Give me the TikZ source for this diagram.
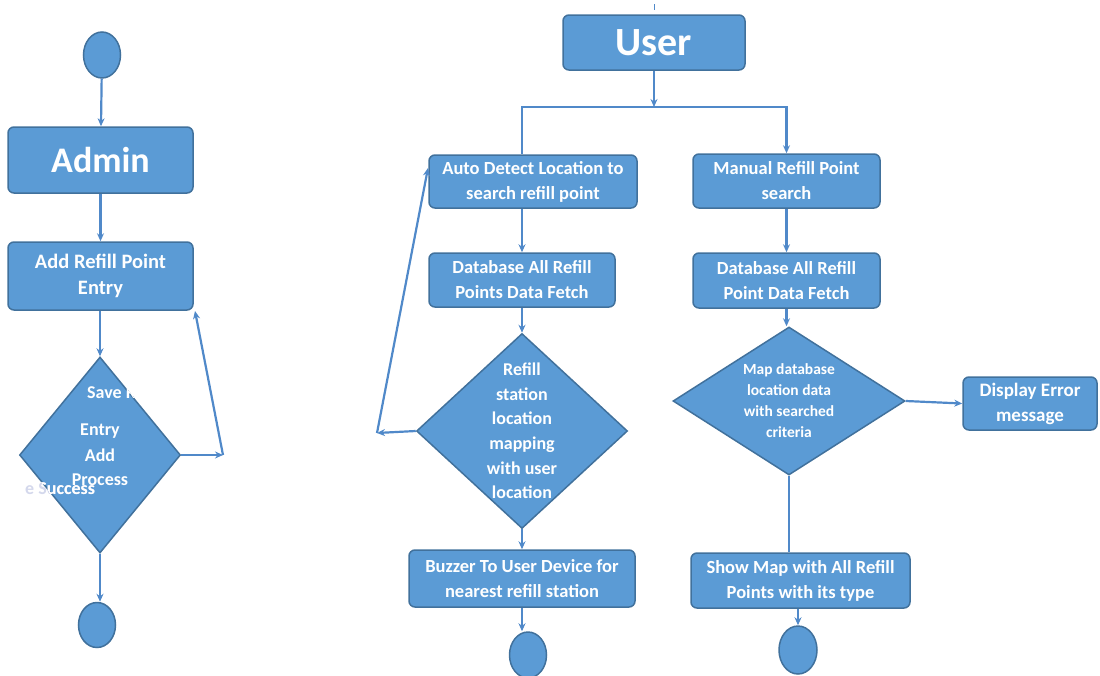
\documentclass[tikz,border=0pt]{standalone}
\usepackage{fontspec}
\setmainfont{Carlito}
\usetikzlibrary{shapes.geometric,arrows.meta,calc}
\definecolor{bfill}{HTML}{5B9BD5}
\definecolor{bdraw}{HTML}{41719C}
\definecolor{lcol}{HTML}{5089C9}
\definecolor{pale}{HTML}{D4D8EC}
\tikzset{
  box/.style={draw=bdraw,fill=bfill,line width=1.5pt,rounded corners=6pt,text=white,font=\bfseries\fontsize{18.5}{25}\selectfont,align=center,inner sep=0pt},
  dia/.style={draw=bdraw,fill=bfill,line width=1.5pt,diamond,inner sep=0pt},
  endc/.style={draw=bdraw,fill=bfill,line width=1.5pt,ellipse,inner sep=0pt},
  ln/.style={draw=lcol,line width=2.2pt},
  arr/.style={ln,-{Stealth[length=8pt,width=7pt]}},
  wt/.style={text=white,font=\bfseries\fontsize{18}{24}\selectfont,inner sep=0pt,align=center}
}
\begin{document}
\begin{tikzpicture}[x=1pt,y=-1pt]
\useasboundingbox (0,0) rectangle (1100,675);
% ---------- Admin side ----------
\node[endc,minimum width=37pt,minimum height=46pt] (c1) at (102,55) {};
\node[box,minimum width=185pt,minimum height=66pt,font=\bfseries\fontsize{36}{40}\selectfont] (admin) at (100.5,160) {Admin};
\node[box,minimum width=185pt,minimum height=68pt,font=\bfseries\fontsize{20.5}{26}\selectfont] (add) at (100.5,276) {Add Refill Point\\Entry};
\node[dia,minimum width=161pt,minimum height=196pt] (d1) at (100,455) {};
\node[wt,anchor=west,text=pale] (t1e) at (25,489) {e Success};
\begin{scope}
\clip (d1.north) -- (d1.east) -- (d1.south) -- (d1.west) -- cycle;
\node[wt,anchor=west] (t1a) at (87,392) {Save Refill};
\node[wt,anchor=west] (t1f) at (25,489) {e Success};
\end{scope}
\node[wt] (t1b) at (100,431) {Entry};
\node[wt] (t1c) at (100,455) {Add};
\node[wt] (t1d) at (100,480) {Process};
\node[endc,minimum width=37pt,minimum height=45pt] (c2) at (97,625) {};
\coordinate (r1) at (223,455);
\coordinate (r2) at (195,311);
\draw[arr] (c1) -- (admin);
\draw[arr] (admin) -- (add);
\draw[arr] (add.south -| d1.north) -- (d1.north);
\draw[arr] (d1.east) -- (r1);
\draw[arr] (r1) -- (r2);
\draw[arr] (d1.south) -- (c2.north -| d1.south);
% ---------- User side ----------
\node[box,minimum width=182pt,minimum height=55pt,font=\bfseries\fontsize{40}{44}\selectfont] (user) at (654,42.5) {User};
\coordinate (tk1) at (654,4);
\coordinate (tk2) at (654,10);
\draw[ln,line width=1pt] (tk1) -- (tk2);
\coordinate (jn) at (654,107);
\node[box,minimum width=208pt,minimum height=53pt] (auto) at (533,181.5) {Auto Detect Location to\\search refill point};
\node[box,minimum width=186pt,minimum height=54pt] (db1) at (522,280) {Database All Refill\\Points Data Fetch};
\node[dia,minimum width=211pt,minimum height=195pt] (d2) at (522,431) {};
\node[wt,font=\bfseries\fontsize{18}{24.6}\selectfont] (t2) at (522,431) {Refill\\station\\location\\mapping\\with user\\location};
\node[box,minimum width=226pt,minimum height=57pt] (buzz) at (522,578.5) {Buzzer To User Device for\\nearest refill station};
\node[endc,minimum width=37pt,minimum height=46pt] (c3) at (528,655) {};
\coordinate (l1) at (377,433);
\coordinate (l2) at (428,168);
\node[box,minimum width=187pt,minimum height=54pt] (man) at (786.5,181) {Manual Refill Point\\search};
\node[box,minimum width=187pt,minimum height=55pt] (db2) at (786.5,280.5) {Database All Refill\\Point Data Fetch};
\node[dia,minimum width=232pt,minimum height=148pt] (d3) at (789,401) {};
\node[wt,font=\bfseries\fontsize{15.5}{21}\selectfont] (t3) at (789,401) {Map database\\location data\\with searched\\criteria};
\node[box,minimum width=134pt,minimum height=53pt,font=\bfseries\fontsize{19}{25}\selectfont] (err) at (1030,403.5) {Display Error\\message};
\node[box,minimum width=219pt,minimum height=55pt] (show) at (800.5,580.5) {Show Map with All Refill\\Points with its type};
\node[endc,minimum width=38pt,minimum height=48pt] (c4) at (798,650) {};
% connectors
\draw[arr] (user.south) -- (jn);
\draw[ln] (jn) -| (auto.north -| db1.north);
\draw[arr] (jn) -| (man.north);
\draw[arr] (auto.south -| db1.north) -- (db1.north);
\draw[arr] (db1) -- (d2.north);
\draw[arr] (d2.west) -- (l1);
\draw[arr] (l1) -- (l2);
\draw[arr] (d2.south) -- (buzz.north);
\draw[arr] (buzz.south) -- (c3.north -| buzz.south);
\draw[arr] (man) -- (db2);
\draw[arr] (db2.south) -- (db2.south |- d3.north);
\draw[arr] (d3.east) -- (err.west);
\draw[ln] (d3.south) -- (d3.south |- show.north);
\draw[arr] (show.south -| c4.north) -- (c4.north);
\end{tikzpicture}
\end{document}
